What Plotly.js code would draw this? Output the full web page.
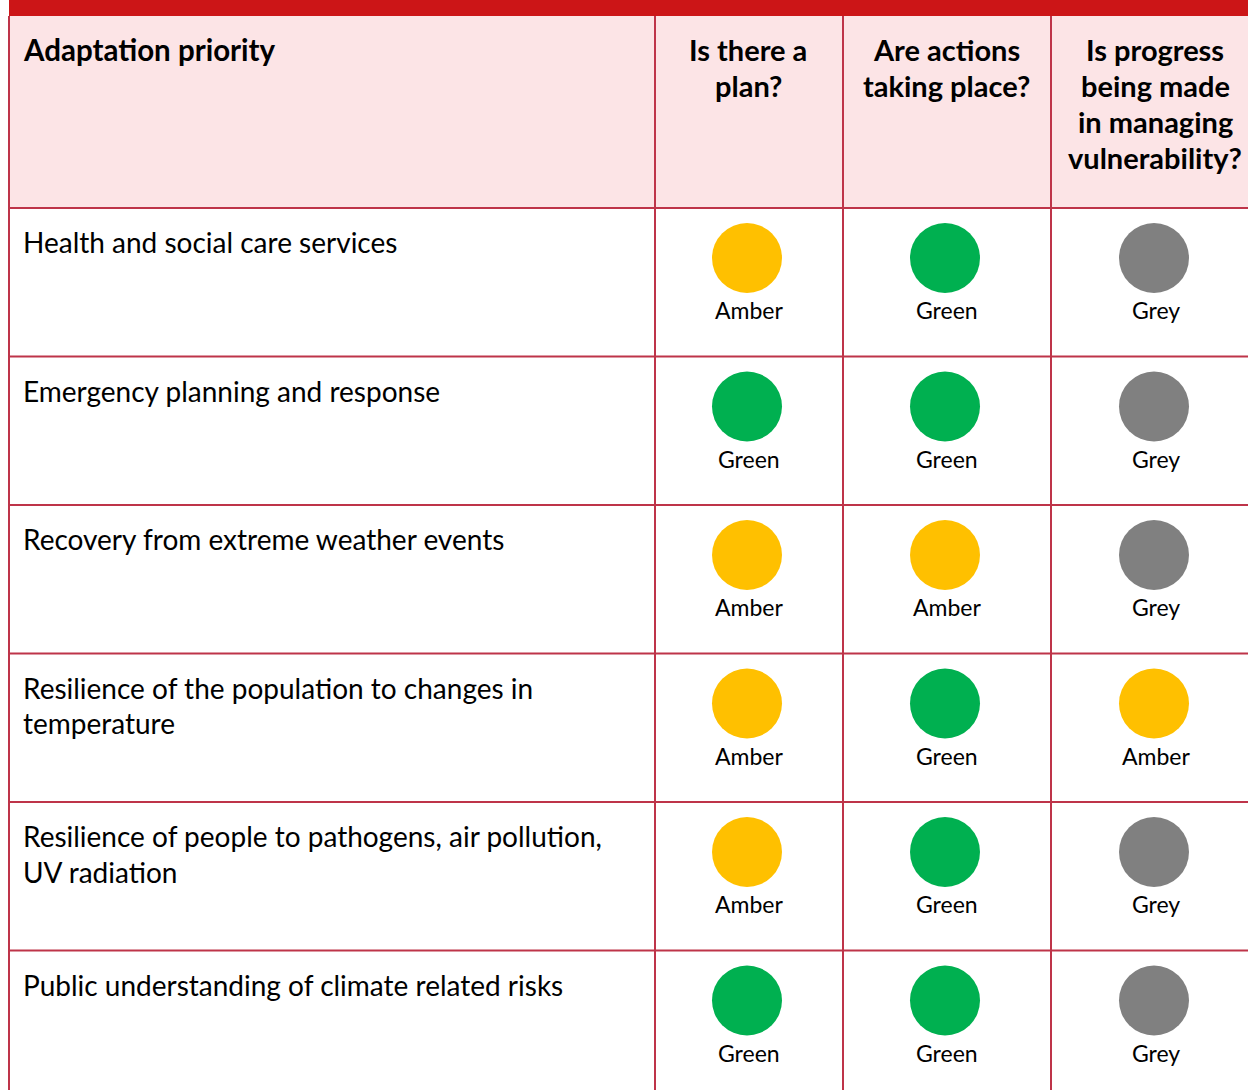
<!DOCTYPE html>
<html>
<head>
<meta charset="utf-8">
<script src="https://cdn.plot.ly/plotly-3.0.1.min.js"></script>
<style>html,body{margin:0;padding:0;background:#fff;overflow:hidden}#chart{width:1248px;height:1090px}</style>
</head>
<body>
<div id="chart"></div>
<script>
// ---- data ----
var firstHeader = "Adaptation priority";
var columnHeaders = [
  ["Is there a", "plan?"],
  ["Are actions", "taking place?"],
  ["Is progress", "being made", "in managing", "vulnerability?"]
];
var priorities = [
  ["Health and social care services"],
  ["Emergency planning and response"],
  ["Recovery from extreme weather events"],
  ["Resilience of the population to changes in", "temperature"],
  ["Resilience of people to pathogens, air pollution,", "UV radiation"],
  ["Public understanding of climate related risks"]
];
var planStatus     = ["Amber", "Green", "Amber", "Amber", "Amber", "Green"];
var actionsStatus  = ["Green", "Green", "Amber", "Green", "Green", "Green"];
var progressStatus = ["Grey",  "Grey",  "Grey",  "Amber", "Grey",  "Grey"];
var statusColors = {Amber: "#FFC000", Green: "#00B050", Grey: "#808080"};

// ---- layout geometry ----
var W = 1248, H = 1090;
var left = 9, colEdges = [655, 843, 1051];
var redTop = 0, headerTop = 16, headerBottom = 208, rowH = 148.5;
var lineCol = "#BE3449";
var FONT = "Lato, 'Noto Sans', sans-serif";
var colCenters = [748, 946, 1155];

var statusCols = [planStatus, actionsStatus, progressStatus];
var shapes = [], annotations = [], traces = [];

// red top band
shapes.push({type:"rect", xref:"x", yref:"y", x0:left, x1:W, y0:redTop, y1:headerTop, fillcolor:"#CC1517", line:{width:0}, layer:"below"});
// pink header
shapes.push({type:"rect", xref:"x", yref:"y", x0:left, x1:W, y0:headerTop, y1:headerBottom, fillcolor:"#FCE4E6", line:{width:0}, layer:"below"});
// horizontal lines
for (var r = 0; r < priorities.length; r++) {
  var yb = headerBottom + r * rowH;
  shapes.push({type:"line", xref:"x", yref:"y", x0:left, x1:W, y0:yb, y1:yb, line:{color:lineCol, width:2}});
}
// vertical lines
[left].concat(colEdges).forEach(function(x){
  shapes.push({type:"line", xref:"x", yref:"y", x0:x, x1:x, y0:headerTop, y1:H, line:{color:lineCol, width:2}});
});

// header texts
annotations.push({x:21, y:49, xref:"x", yref:"y", text:"<b>"+firstHeader+"</b>", showarrow:false, xanchor:"left", yanchor:"middle", font:{family:FONT, size:29.5, color:"#000"}});
columnHeaders.forEach(function(lines, c){
  lines.forEach(function(t, k){
    annotations.push({x:colCenters[c], y:49 + k*36.3, xref:"x", yref:"y", text:"<b>"+t+"</b>", showarrow:false, xanchor:"center", yanchor:"middle", font:{family:FONT, size:29, color:"#000"}});
  });
});

// row labels
priorities.forEach(function(lines, r){
  var top = headerBottom + r * rowH;
  lines.forEach(function(t, k){
    annotations.push({x:21, y:top + 34 + k*35.5, xref:"x", yref:"y", text:t, showarrow:false, xanchor:"left", yanchor:"middle", font:{family:FONT, size:28, color:"#000"}});
  });
});

// circles + status labels
statusCols.forEach(function(col, c){
  var xs = [], ys = [], cols = [];
  col.forEach(function(s, r){
    var top = headerBottom + r * rowH;
    xs.push(colCenters[c] - 1);
    ys.push(top + 50);
    cols.push(statusColors[s]);
    annotations.push({x:colCenters[c] + 1, y:top + 102, xref:"x", yref:"y", text:s, showarrow:false, xanchor:"center", yanchor:"middle", font:{family:FONT, size:23, color:"#000"}});
  });
  traces.push({type:"scatter", mode:"markers", x:xs, y:ys, marker:{size:70, color:cols, line:{width:0}}, hoverinfo:"skip", showlegend:false, cliponaxis:false});
});

var layout = {
  width: W, height: H,
  margin: {l:0, r:0, t:0, b:0, pad:0},
  paper_bgcolor: "#fff", plot_bgcolor: "#fff",
  xaxis: {range:[0, W], visible:false, fixedrange:true},
  yaxis: {range:[H, 0], visible:false, fixedrange:true},
  shapes: shapes,
  annotations: annotations,
  showlegend: false
};
Plotly.newPlot("chart", traces, layout, {displayModeBar:false, staticPlot:true});
</script>
</body>
</html>
